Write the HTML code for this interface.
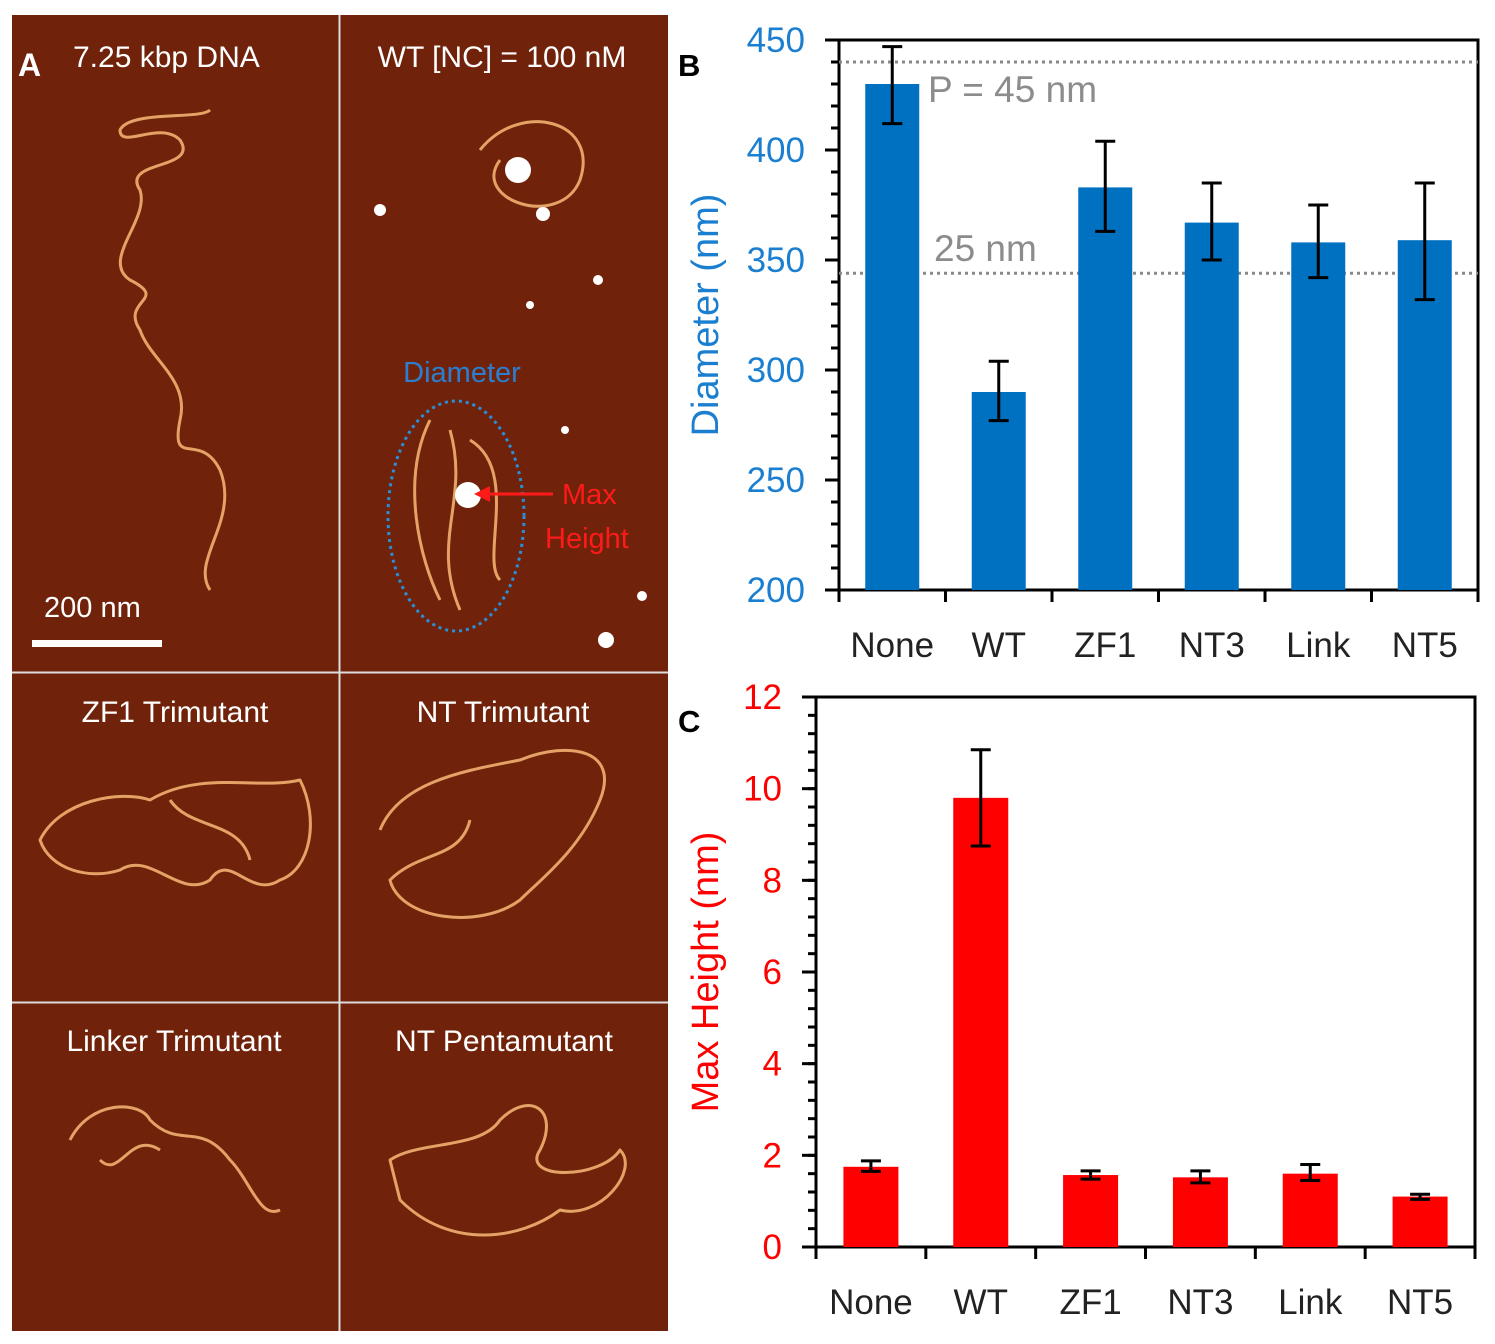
<!DOCTYPE html>
<html><head><meta charset="utf-8"><style>
body{margin:0;background:#fff;width:1495px;height:1344px;overflow:hidden;font-family:"Liberation Sans",sans-serif}
svg{position:absolute;left:0;top:0}
</style></head><body>
<svg width="1495" height="1344">
<g>
<rect x="12" y="15" width="656" height="1316" fill="#70230a"/>
<line x1="339.5" y1="15" x2="339.5" y2="1331" stroke="#ddd" stroke-width="2"/>
<line x1="12" y1="672.5" x2="668" y2="672.5" stroke="#ddd" stroke-width="2"/>
<line x1="12" y1="1002.5" x2="668" y2="1002.5" stroke="#ddd" stroke-width="2"/>
<g fill="none" stroke="#f2b070" stroke-width="3" stroke-linejoin="round" opacity="0.9">
<path d="M210 590 C190 560 240 520 220 470 C200 430 170 470 180 420 C190 380 150 360 140 330 C120 300 170 300 130 280 C100 260 150 220 140 190 C120 160 200 170 180 140 C160 120 120 150 120 130 C130 110 200 120 210 110"/>
<path d="M480 150 C520 100 600 120 580 180 C560 230 470 200 500 160 M430 420 C400 480 420 560 440 600 M470 440 C520 470 480 560 500 580 M450 430 C470 500 430 540 460 610"/>
<path d="M40 840 C60 800 120 790 150 800 C200 770 260 790 300 780 C320 820 310 870 280 880 C250 900 230 850 210 880 C180 900 150 850 120 870 C90 880 50 870 40 840 Z M170 800 C190 830 240 820 250 860"/>
<path d="M380 830 C400 780 470 770 520 760 C570 740 620 750 600 800 C580 850 540 880 520 900 C480 930 400 920 390 880 C420 850 460 860 470 820"/>
<path d="M70 1140 C90 1100 140 1100 150 1120 C180 1150 200 1120 230 1160 C250 1180 260 1220 280 1210 M100 1160 C120 1180 130 1130 160 1150"/>
<path d="M390 1160 C420 1140 480 1150 500 1120 C530 1090 560 1110 540 1150 C520 1180 600 1180 620 1150 C640 1170 600 1220 560 1210 C520 1240 450 1250 400 1200 Z"/>
</g>
<g fill="#fff">
<circle cx="518" cy="170" r="13"/><circle cx="468" cy="495" r="13"/><circle cx="543" cy="214" r="7"/><circle cx="606" cy="640" r="8"/><circle cx="380" cy="210" r="6"/><circle cx="598" cy="280" r="5"/><circle cx="530" cy="305" r="4"/><circle cx="642" cy="596" r="5"/><circle cx="565" cy="430" r="4"/>
</g>
<ellipse cx="456" cy="516" rx="68" ry="115" fill="none" stroke="#2a8fd8" stroke-width="3" stroke-dasharray="3 4"/>
<line x1="553" y1="494" x2="486" y2="494" stroke="#ff1a1a" stroke-width="3"/>
<polygon points="474,494 490,486 490,502" fill="#ff1a1a"/>
<text x="462" y="382" fill="#2a7fd0" font-size="29" text-anchor="middle">Diameter</text>
<text x="562" y="504" fill="#ff1a1a" font-size="29">Max</text>
<text x="545" y="548" fill="#ff1a1a" font-size="29">Height</text>
<rect x="32" y="640" width="130" height="7" fill="#fff"/>
<text x="44" y="617" fill="#fff" font-size="29">200 nm</text>
<g fill="#fff" font-size="30">
<text x="18" y="76" font-weight="bold" font-size="32">A</text>
<text x="73" y="67">7.25 kbp DNA</text>
<text x="502" y="67" text-anchor="middle">WT [NC] = 100 nM</text>
<text x="175" y="722" text-anchor="middle">ZF1 Trimutant</text>
<text x="503" y="722" text-anchor="middle">NT  Trimutant</text>
<text x="174" y="1051" text-anchor="middle">Linker Trimutant</text>
<text x="504" y="1051" text-anchor="middle">NT Pentamutant</text>
</g>
</g>
<text x="678" y="76" font-size="31" font-weight="bold">B</text>
<text x="678" y="732" font-size="31" font-weight="bold">C</text>
<g id="chartB"></g>
<g id="chartC"></g>
</svg>
<script>
const cats = ["None","WT","ZF1","NT3","Link","NT5"];
const diamVals = [430, 290, 383, 367, 358, 359];
const diamLo = [412, 277, 363, 350, 342, 332];
const diamHi = [447, 304, 404, 385, 375, 385];
const diamTicks = [200, 250, 300, 350, 400, 450];
const refLines = [440, 344];
const refLabels = ["P = 45 nm", "25 nm"];
const hVals = [1.75, 9.8, 1.57, 1.52, 1.6, 1.1];
const hLo = [1.65, 8.75, 1.48, 1.4, 1.45, 1.04];
const hHi = [1.88, 10.85, 1.66, 1.66, 1.8, 1.15];
const hTicks = [0, 2, 4, 6, 8, 10, 12];
const NS = "http://www.w3.org/2000/svg";
function mk(p, t, a, txt){const e=document.createElementNS(NS,t);for(const k in a)e.setAttribute(k,a[k]);if(txt!==undefined)e.textContent=txt;p.appendChild(e);return e;}
function chart(g, o){
  const y = v => o.y1 - (v - o.min)/(o.max - o.min)*(o.y1 - o.y0);
  const bw = (o.x1 - o.x0)/cats.length;
  mk(g,"rect",{x:o.x0,y:o.y0,width:o.x1-o.x0,height:o.y1-o.y0,fill:"none",stroke:"#000","stroke-width":3});
  (o.refs||[]).forEach((r,i)=>{
    const l=mk(g,"line",{x1:o.x0,x2:o.x1,y1:y(r),y2:y(r),stroke:"#888","stroke-width":3,"stroke-dasharray":"3 4"});
    
    
    const t=mk(g,"text",{x:o.refX[i],y:y(r)+o.refDy[i],fill:"#8c8c8c","font-size":37},o.refLabels[i]);
    
    
  });
  cats.forEach((c,i)=>{
    const cx=o.x0+bw*(i+0.5);
    const b=mk(g,"rect",{x:cx-o.barW/2,y:y(o.vals[i]),width:o.barW,height:o.y1-y(o.vals[i]),fill:o.color});
    
    
    const e=mk(g,"path",{d:`M${cx} ${y(o.lo[i])}V${y(o.hi[i])}M${cx-10} ${y(o.lo[i])}h20M${cx-10} ${y(o.hi[i])}h20`,stroke:"#000","stroke-width":3,fill:"none"});
    
    
    const t=mk(g,"text",{x:cx,y:o.y1+67,"font-size":35,"text-anchor":"middle",fill:"#222"},c);
    
    
    mk(g,"line",{x1:o.x0+bw*(i+1),x2:o.x0+bw*(i+1),y1:o.y1,y2:o.y1+12,stroke:"#000","stroke-width":3});
  });
  mk(g,"line",{x1:o.x0,x2:o.x0,y1:o.y1,y2:o.y1+12,stroke:"#000","stroke-width":3});
  for(let v=o.min; v<=o.max+1e-9; v+=o.minor){
    mk(g,"line",{x1:o.x0-8,x2:o.x0,y1:y(v),y2:y(v),stroke:"#000","stroke-width":3});
  }
  o.ticks.forEach(v=>{
    mk(g,"line",{x1:o.x0-14,x2:o.x0,y1:y(v),y2:y(v),stroke:"#000","stroke-width":3});
    const t=mk(g,"text",{x:o.x0-34,y:y(v)+12,"font-size":35,"text-anchor":"end",fill:o.tickColor},String(v));
    
    
  });
  const yt=mk(g,"text",{x:0,y:0,"font-size":38,"text-anchor":"middle",fill:o.tickColor,transform:`translate(${o.titleX},${(o.y0+o.y1)/2}) rotate(-90)`},o.title);
  
  
}
chart(document.getElementById("chartB"),{x0:839,x1:1478,y0:40,y1:590,min:200,max:450,minor:10,ticks:diamTicks,vals:diamVals,lo:diamLo,hi:diamHi,color:"#0070c0",barW:54,tickColor:"#1a7fd0",title:"Diameter (nm)",titleX:718,refs:refLines,refLabels:refLabels,refX:[928,934],refDy:[40,-12]});
chart(document.getElementById("chartC"),{x0:816,x1:1475,y0:697,y1:1247,min:0,max:12,minor:0.4,ticks:hTicks,vals:hVals,lo:hLo,hi:hHi,color:"#ff0000",barW:55,tickColor:"#ff0000",title:"Max Height (nm)",titleX:718});
</script>
</body></html>
